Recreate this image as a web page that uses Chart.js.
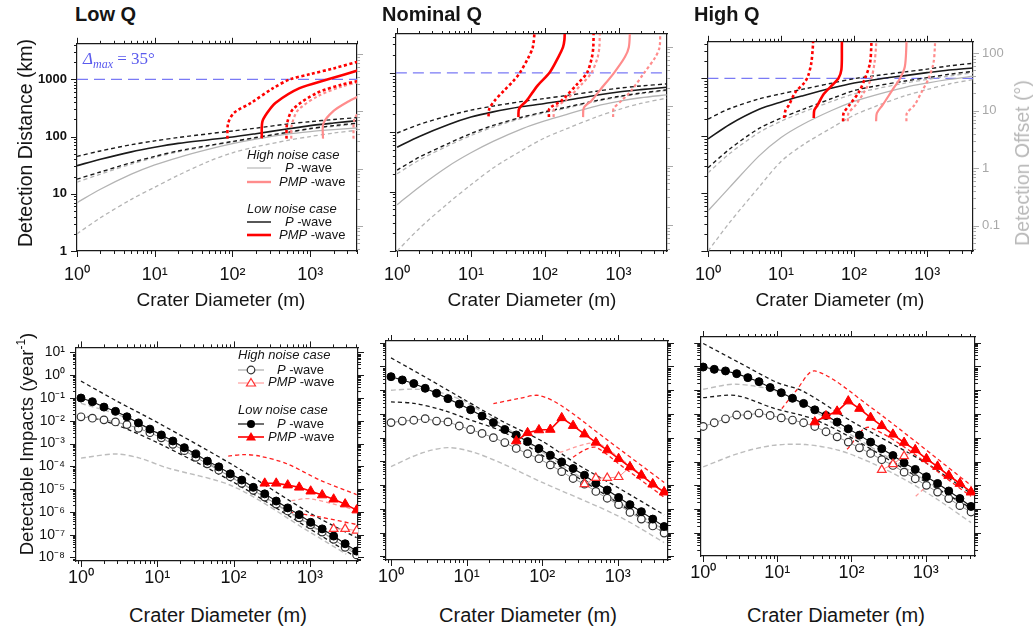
<!DOCTYPE html>
<html lang="en">
<head>
<meta charset="UTF-8">
<title>Detection distance and detectable impacts</title>
<script src="https://cdn.jsdelivr.net/npm/chart.js"></script>
<style>
    body { margin: 0; background: #fff; }
    #page { position: relative; width: 1034px; height: 633px; overflow: hidden; background: #fff;
            font-family: "Liberation Sans", Arial, sans-serif; color: #151515; }
    canvas { position: absolute; }
    .t { position: absolute; white-space: nowrap; }
    .ptitle { font: bold 20px/22px "Liberation Sans", Arial, sans-serif; }
    .xt { font-size: 19px; line-height: 22px; transform: translateX(-50%); }
    .xt2 { font-size: 20px; line-height: 22px; transform: translateX(-50%); }
    .yt { font-size: 19.5px; line-height: 22px; transform: translate(-50%, -50%) rotate(-90deg); }
    .lg { font-size: 13px; line-height: 16px; }
    .lg i { font-style: italic; }
    .hd { font-style: italic; }
    svg.s { position: absolute; overflow: visible; }
</style>
</head>
<body>
<div id="page">
    <canvas id="distLow"></canvas>
    <canvas id="distNom"></canvas>
    <canvas id="distHigh"></canvas>
    <canvas id="rateLow"></canvas>
    <canvas id="rateNom"></canvas>
    <canvas id="rateHigh"></canvas>

    <div class="t ptitle" style="left:75px;top:3px;">Low Q</div>
    <div class="t ptitle" style="left:382px;top:3px;">Nominal Q</div>
    <div class="t ptitle" style="left:694px;top:3px;">High Q</div>

    <div class="t yt" style="left:25px;top:143px;">Detection Distance (km)</div>
    <div class="t yt" style="left:1022px;top:163px;color:#b8b8b8;">Detection Offset (°)</div>
    <div class="t yt" style="left:24px;top:444px;font-size:18.5px;">Detectable Impacts (year<sup style="font-size:12px;">-1</sup>)</div>

    <div class="t xt" style="left:221px;top:289px;">Crater Diameter (m)</div>
    <div class="t xt" style="left:532px;top:289px;">Crater Diameter (m)</div>
    <div class="t xt" style="left:840px;top:289px;">Crater Diameter (m)</div>
    <div class="t xt2" style="left:218px;top:604px;">Crater Diameter (m)</div>
    <div class="t xt2" style="left:528px;top:604px;">Crater Diameter (m)</div>
    <div class="t xt2" style="left:836px;top:604px;">Crater Diameter (m)</div>

    <div class="t" style="left:83px;top:48px;color:#5a5aee;font:17px/22px 'Liberation Serif','DejaVu Serif',serif;">
        <i>Δ</i><sub style="font-size:12px;"><i>max</i></sub> = 35°</div>

    <!-- legend, top row -->
    <div class="t lg hd" style="left:247px;top:147px;">High noise case</div>
    <svg class="s" style="left:247px;top:168px;" width="24" height="1"><line x1="0" y1="0" x2="24" y2="0" stroke="#bdbdbd" stroke-width="1.3"/></svg>
    <div class="t lg" style="left:285px;top:160px;"><i>P</i> -wave</div>
    <svg class="s" style="left:247px;top:182px;" width="24" height="1"><line x1="0" y1="0" x2="24" y2="0" stroke="#ff8c8c" stroke-width="2.4"/></svg>
    <div class="t lg" style="left:279px;top:174px;"><i>PMP</i> -wave</div>
    <div class="t lg hd" style="left:247px;top:201px;">Low noise case</div>
    <svg class="s" style="left:247px;top:222px;" width="24" height="1"><line x1="0" y1="0" x2="24" y2="0" stroke="#444" stroke-width="1.8"/></svg>
    <div class="t lg" style="left:285px;top:214px;"><i>P</i> -wave</div>
    <svg class="s" style="left:247px;top:235px;" width="24" height="1"><line x1="0" y1="0" x2="24" y2="0" stroke="#ff0000" stroke-width="2.6"/></svg>
    <div class="t lg" style="left:279px;top:227px;"><i>PMP</i> -wave</div>

    <!-- legend, bottom row -->
    <div class="t lg hd" style="left:238px;top:347px;">High noise case</div>
    <svg class="s" style="left:238px;top:370px;" width="26" height="1"><line x1="0" y1="0" x2="26" y2="0" stroke="#999" stroke-width="1"/><circle cx="13" cy="0" r="3.8" fill="#fff" stroke="#333" stroke-width="1.2"/></svg>
    <div class="t lg" style="left:277px;top:362px;"><i>P</i> -wave</div>
    <svg class="s" style="left:238px;top:383px;" width="26" height="1"><line x1="0" y1="0" x2="26" y2="0" stroke="#ff8c8c" stroke-width="1"/><polygon points="13,-4.5 17.5,3 8.5,3" fill="#fff" stroke="#ff3030" stroke-width="1.2"/></svg>
    <div class="t lg" style="left:268px;top:374px;"><i>PMP</i> -wave</div>
    <div class="t lg hd" style="left:238px;top:402px;">Low noise case</div>
    <svg class="s" style="left:238px;top:424px;" width="26" height="1"><line x1="0" y1="0" x2="26" y2="0" stroke="#111" stroke-width="1.2"/><circle cx="13" cy="0" r="4" fill="#000"/></svg>
    <div class="t lg" style="left:277px;top:416px;"><i>P</i> -wave</div>
    <svg class="s" style="left:238px;top:437px;" width="26" height="1"><line x1="0" y1="0" x2="26" y2="0" stroke="#ff0000" stroke-width="1.6"/><polygon points="13,-5 18,3.5 8,3.5" fill="#ff0000"/></svg>
    <div class="t lg" style="left:268px;top:429px;"><i>PMP</i> -wave</div>
</div>

<script>
// ---------- data: detection distance (km) vs crater diameter (m) ----------
const D_GRID = [1, 2, 5, 10, 20, 50, 100, 200, 500, 1000, 2000, 4500];
const DELTA_MAX_KM = 1000;
const KM_PER_DEG = 27.5;

// Low Q
const distLow_lnP   = [31, 40, 54, 65, 76, 88, 98, 112, 135, 155, 172, 192];
const distLow_lnPhi = [45, 56, 72, 84, 96, 112, 125, 140, 165, 182, 198, 217];
const distLow_lnPlo = [18, 24, 35, 45, 56, 70, 82, 96, 118, 138, 155, 174];
const distLow_hnP   = [7, 12, 22, 32, 43, 60, 75, 90, 110, 122, 132, 143];
const distLow_hnPhi = [16, 22, 33, 43, 54, 68, 80, 94, 115, 135, 150, 168];
const distLow_hnPlo = [2, 3.8, 8, 13, 21, 37, 52, 66, 85, 100, 115, 131];
const distLow_lnPmp   = [[238, 93], [242, 180], [280, 260], [360, 390], [730, 700], [1700, 1000], [4500, 1480]];
const distLow_lnPmpHi = [[86, 92], [88, 170], [105, 260], [175, 390], [333, 700], [550, 1000], [1000, 1230], [2000, 1550], [4500, 2100]];
const distLow_lnPmpLo = [[495, 92], [505, 170], [600, 300], [1200, 570], [2500, 800], [4500, 960]];
const distLow_hnPmp   = [[1460, 92], [1480, 170], [2000, 280], [3000, 400], [4500, 530]];
const distLow_hnPmpHi = [[570, 92], [580, 160], [700, 290], [1300, 520], [2500, 740], [4500, 920]];
const distLow_hnPmpLo = [[3600, 92], [3700, 200], [4500, 300]];

// Nominal Q
const distNom_lnP   = [56, 85, 135, 180, 220, 270, 305, 345, 420, 475, 520, 570];
const distNom_lnPhi = [97, 135, 190, 235, 275, 330, 370, 415, 490, 550, 600, 650];
const distNom_lnPlo = [23, 38, 65, 95, 130, 180, 220, 265, 340, 400, 455, 515];
const distNom_hnP   = [6, 12, 27, 45, 70, 115, 155, 200, 275, 330, 380, 425];
const distNom_hnPhi = [20, 34, 60, 88, 122, 172, 212, 255, 330, 390, 445, 505];
const distNom_hnPlo = [1, 2.4, 6.5, 13, 25, 50, 80, 115, 180, 240, 305, 375];
const distNom_lnPmp   = [[44, 180], [45, 250], [57, 340], [80, 610], [116, 1000], [153, 1840], [177, 2700], [185, 3600], [187, 5000]];
const distNom_lnPmpHi = [[17.3, 185], [17.8, 250], [21, 340], [28, 500], [38, 740], [46, 1000], [60, 1800], [69, 2700], [73, 5000]];
const distNom_lnPmpLo = [[114, 180], [116, 250], [170, 343], [277, 650], [374, 1000], [435, 1800], [455, 2700], [460, 5000]];
const distNom_hnPmp   = [[331, 180], [340, 260], [434, 343], [557, 507], [870, 1000], [1220, 1840], [1380, 2700], [1430, 5000]];
const distNom_hnPmpHi = [[132, 180], [135, 250], [200, 360], [320, 650], [430, 1000], [520, 1800], [550, 2700], [557, 5000]];
const distNom_hnPmpLo = [[845, 180], [860, 250], [1110, 343], [1500, 507], [2230, 1000], [3160, 1840], [3600, 2700], [3670, 5000]];

// High Q
const distHigh_lnP   = [89, 160, 290, 390, 500, 680, 830, 960, 1120, 1260, 1400, 1530];
const distHigh_lnPhi = [197, 300, 440, 540, 650, 830, 990, 1120, 1300, 1450, 1650, 1850];
const distHigh_lnPlo = [28, 60, 135, 205, 290, 450, 615, 740, 900, 1030, 1180, 1340];
const distHigh_hnP   = [5, 13, 45, 94, 160, 280, 400, 520, 700, 830, 960, 1100];
const distHigh_hnPhi = [23, 50, 115, 180, 260, 400, 540, 660, 830, 960, 1100, 1260];
const distHigh_hnPlo = [1, 3.2, 13, 36, 70, 140, 230, 330, 500, 640, 800, 970];
const distHigh_lnPmp   = [[28, 205], [28.5, 280], [31.5, 343], [38.6, 540], [52, 800], [61, 1000], [67, 1420], [68, 3700], [68, 5000]];
const distHigh_lnPmpHi = [[11, 205], [11.5, 280], [12.8, 343], [15.7, 575], [21, 850], [23.4, 1100], [25.9, 1840], [27.3, 3700], [27.5, 5000]];
const distHigh_lnPmpLo = [[70.6, 180], [72, 250], [86, 343], [116, 575], [141, 1000], [165, 1840], [172, 3700], [172, 5000]];
const distHigh_hnPmp   = [[200, 180], [205, 250], [245, 343], [330, 613], [425, 1000], [495, 1600], [520, 3700], [520, 5000]];
const distHigh_hnPmpHi = [[82, 180], [84, 250], [105, 343], [141, 613], [172, 1000], [190, 1840], [200, 3700], [200, 5000]];
const distHigh_hnPmpLo = [[520, 180], [530, 250], [670, 343], [860, 613], [1050, 1000], [1220, 1840], [1280, 3700], [1280, 5000]];

// ---------- data: detectable impacts (per year) vs crater diameter (m) ----------
const D_STEPS = [1, 1.41, 2, 2.83, 4, 5.66, 8, 11.3, 16, 22.6, 32, 45.3, 64, 90.5, 128, 181, 256, 362, 512, 724, 1024, 1448, 2048, 2896, 4096];

// Low Q
const rateLow_lnP = [1.0e-1, 6.9e-2, 4.0e-2, 2.6e-2, 1.5e-2, 8.1e-3, 4.3e-3, 2.4e-3, 1.3e-3, 6.6e-4, 3.5e-4, 1.7e-4, 9.5e-5, 4.7e-5, 2.5e-5, 1.2e-5, 6.2e-6, 3.0e-6, 1.5e-6, 7.6e-7, 3.5e-7, 1.8e-7, 8.7e-8, 4.0e-8, 1.9e-8];
const rateLow_hnP = [1.5e-2, 1.3e-2, 1.1e-2, 8.9e-3, 6.8e-3, 4.7e-3, 3.0e-3, 1.8e-3, 9.3e-4, 4.9e-4, 2.5e-4, 1.3e-4, 6.8e-5, 3.5e-5, 1.8e-5, 8.9e-6, 4.5e-6, 2.2e-6, 1.1e-6, 5.5e-7, 2.7e-7, 1.3e-7, 6.3e-8, 2.8e-8, 1.3e-8];
const rateLow_lnPmpFrom = 16;
const rateLow_lnPmp = [1.8e-5, 1.8e-5, 1.5e-5, 1.2e-5, 8.1e-6, 5.5e-6, 3.6e-6, 2.2e-6, 1.2e-6];
const rateLow_hnPmpFrom = 22;
const rateLow_hnPmp = [1.8e-7, 1.8e-7, 1.5e-7];
const rateLow_lnPhi = [[1, 5.5e-1], [3, 7.1e-2], [10, 8.5e-3], [100, 1.1e-4], [1000, 8.9e-7], [4096, 7.4e-8]];
const rateLow_lnPlo = [[1, 1.9e-2], [3, 6.3e-3], [10, 1.1e-3], [100, 2.0e-5], [1000, 1.8e-7], [4096, 1.0e-8]];
const rateLow_hnPhi = [[1, 5.8e-2], [3, 1.9e-2], [10, 3.0e-3], [100, 3.0e-5], [1000, 2.6e-7], [4096, 1.6e-8]];
const rateLow_hnPlo = [[1, 2.3e-4], [2.9, 3.5e-4], [5.9, 2.3e-4], [13, 8.9e-5], [100, 1.3e-5], [1000, 1.3e-7], [3000, 1.4e-8]];
const rateLow_lnPmpHi = [[85, 2.8e-4], [134, 3.3e-4], [222, 2.8e-4], [500, 1.3e-4], [1350, 2.5e-5], [4096, 5.8e-6]];
const rateLow_lnPmpLo = [[540, 1.0e-6], [1350, 6.0e-7], [4096, 2.8e-7]];
const rateLow_hnPmpHi = [[575, 3.1e-6], [1000, 3.8e-6], [4096, 1.2e-6]];

// Nominal Q
const rateNom_lnP = [3.7e-1, 2.7e-1, 1.9e-1, 1.2e-1, 7.4e-2, 4.4e-2, 2.6e-2, 1.5e-2, 8.1e-3, 4.3e-3, 2.2e-3, 1.3e-3, 6.8e-4, 3.5e-4, 1.8e-4, 9.5e-5, 5.0e-5, 2.6e-5, 1.2e-5, 6.2e-6, 3.0e-6, 1.5e-6, 7.6e-7, 3.7e-7, 1.8e-7];
const rateNom_hnP = [4.3e-3, 5.0e-3, 5.4e-3, 6.3e-3, 5.0e-3, 4.6e-3, 3.1e-3, 2.2e-3, 1.5e-3, 1.0e-3, 6.2e-4, 3.5e-4, 2.1e-4, 1.3e-4, 7.1e-5, 3.7e-5, 1.9e-5, 1.1e-5, 5.4e-6, 2.8e-6, 1.5e-6, 7.1e-7, 3.7e-7, 1.9e-7, 9.5e-8];
const rateNom_lnPmpFrom = 11;
const rateNom_lnPmp = [7.2e-4, 1.6e-3, 2.1e-3, 2.2e-3, 6.8e-3, 3.2e-3, 1.4e-3, 6.3e-4, 3.0e-4, 1.3e-4, 5.8e-5, 2.6e-5, 1.1e-5, 5.1e-6];
const rateNom_hnPmpFrom = 17;
const rateNom_hnPmp = [1.1e-5, 2.0e-5, 2.0e-5, 2.2e-5, 5.8e-5, 2.6e-5, 1.1e-5, 5.1e-6];
const rateNom_lnPhi = [[1, 2.3], [3, 3.2e-1], [10, 3.5e-2], [30, 4.8e-3], [100, 7.1e-4], [300, 7.1e-5], [1000, 7.9e-6], [4096, 5.6e-7]];
const rateNom_lnPlo = [[1, 3.2e-2], [2, 2.8e-2], [5, 1.4e-2], [10, 6.3e-3], [30, 1.8e-3], [100, 1.8e-4], [1000, 1.8e-6], [4096, 1.0e-7]];
const rateNom_hnPhi = [[1, 1.0e-1], [2, 1.1e-1], [4, 8.9e-2], [10, 3.0e-2], [100, 2.5e-4], [1000, 2.0e-6], [4096, 1.3e-7]];
const rateNom_hnPlo = [[1, 6.0e-5], [2.5, 2.2e-4], [5.6, 3.8e-4], [12, 2.5e-4], [30, 7.9e-5], [100, 1.3e-5], [1000, 5.1e-7], [4096, 3.8e-8]];
const rateNom_lnPmpHi = [[22.6, 2.7e-2], [50, 4.5e-2], [90, 6.0e-2], [180, 2.2e-2], [700, 8.7e-4], [4096, 1.3e-5]];
const rateNom_lnPmpLo = [[256, 1.5e-4], [362, 3.0e-4], [512, 3.9e-4], [1024, 8.0e-5], [4096, 3.1e-6]];
const rateNom_hnPmpHi = [[170, 2.4e-4], [500, 5.9e-4], [1024, 1.5e-4], [4096, 4.5e-6]];

// High Q
const rateHigh_lnP = [9.5e-1, 7.6e-1, 6.5e-1, 5.0e-1, 3.4e-1, 2.3e-1, 1.3e-1, 7.9e-2, 4.6e-2, 2.8e-2, 1.5e-2, 8.7e-3, 4.6e-3, 2.4e-3, 1.3e-3, 6.6e-4, 3.5e-4, 1.8e-4, 8.9e-5, 4.7e-5, 2.3e-5, 1.2e-5, 5.8e-6, 2.8e-6, 1.3e-6];
const rateHigh_hnP = [3.0e-3, 4.3e-3, 6.3e-3, 9.1e-3, 9.1e-3, 1.1e-2, 8.7e-3, 6.9e-3, 5.6e-3, 4.3e-3, 3.0e-3, 1.8e-3, 1.1e-3, 6.6e-4, 3.8e-4, 2.2e-4, 1.2e-4, 6.9e-5, 3.6e-5, 1.9e-5, 1.0e-5, 5.2e-6, 2.8e-6, 1.4e-6, 7.6e-7];
const rateHigh_lnPmpFrom = 10;
const rateHigh_lnPmp = [4.6e-3, 8.3e-3, 1.3e-2, 3.5e-2, 1.7e-2, 7.1e-3, 3.2e-3, 1.4e-3, 6.3e-4, 3.1e-4, 1.3e-4, 6.2e-5, 2.6e-5, 1.2e-5, 5.2e-6];
const rateHigh_hnPmpFrom = 16;
const rateHigh_hnPmp = [4.5e-5, 7.8e-5, 1.7e-4, 3.1e-4, 1.3e-4, 6.2e-5, 2.6e-5, 1.2e-5, 5.2e-6];
const rateHigh_lnPhi = [[1, 9.3], [3, 1.5], [10, 2.1e-1], [22, 9.3e-2], [100, 5.0e-3], [1000, 8.9e-5], [4096, 4.5e-6]];
const rateHigh_lnPlo = [[1, 4.9e-2], [2.8, 6.0e-2], [8.7, 1.8e-2], [30, 6.3e-3], [100, 1.0e-3], [1000, 1.4e-5], [4096, 1.1e-6]];
const rateHigh_hnPhi = [[1, 1.1e-1], [2.8, 1.8e-1], [11.8, 7.4e-2], [100, 1.3e-3], [1000, 1.6e-5], [4096, 9.0e-7]];
const rateHigh_hnPlo = [[1, 6.0e-5], [3.1, 2.3e-4], [8.7, 4.8e-4], [24, 5.2e-4], [67, 3.0e-4], [185, 8.9e-5], [515, 1.8e-5], [1430, 2.6e-6], [4100, 2.7e-7]];
const rateHigh_lnPmpHi = [[11.5, 1.7e-2], [17.8, 9.3e-2], [32, 6.5e-1], [169, 2.3e-2], [4096, 1.0e-5]];
const rateHigh_lnPmpLo = [[87, 3.3e-4], [177, 2.7e-3], [4096, 3.5e-6]];
const rateHigh_hnPmpHi = [[735, 3.5e-6], [1100, 1.1e-5]];

// ---------- styles ----------
const BLACK = '#1a1a1a', GRAY = '#b4b4b4', RED = '#ff0000', PINK = '#ff8c8c', BLUE = '#7a7af5';
const DASH = [4, 3], DOT = [3, 2.5];
const FONT = '"Liberation Sans", Arial, sans-serif';

// ---------- helpers ----------
const SUP = { '0': '⁰', '1': '¹', '2': '²', '3': '³', '4': '⁴', '5': '⁵', '6': '⁶', '7': '⁷', '8': '⁸', '9': '⁹', '-': '⁻' };
function decadeExp(v) {
    const e = Math.log10(v), r = Math.round(e);
    return Math.abs(e - r) < 1e-6 ? r : null;
}
const powLabel = v => { const e = decadeExp(v); return e === null ? '' : '10' + String(e).split('').map(c => SUP[c]).join(''); };
const plainLabel = v => { const e = decadeExp(v); return e === null ? '' : (e < 0 ? v.toFixed(-e) : String(Math.round(v))); };

// tick positions 1..9 x 10^n inside the axis range
function logTicks(min, max) {
    const out = [];
    for (let e = Math.floor(Math.log10(min)); e <= Math.ceil(Math.log10(max)); e++) {
        for (let m = 1; m < 10; m++) {
            const v = m * Math.pow(10, e);
            if (v >= min * 0.999 && v <= max * 1.001) out.push({ value: v });
        }
    }
    return out;
}

const zip = (xs, ys) => xs.map((x, i) => ({ x: x, y: ys[i] }));
const pairs = arr => arr.map(p => ({ x: p[0], y: p[1] }));

function line(data, color, width, dash, tension) {
    return { data: data, borderColor: color, borderWidth: width, borderDash: dash || [],
             pointRadius: 0, fill: false, tension: tension === undefined ? 0.3 : tension };
}
function marks(data, o) {
    return { data: data, borderColor: o.line, borderWidth: o.lw, tension: 0, fill: false,
             pointStyle: o.style, pointRadius: o.r, pointBackgroundColor: o.fill,
             pointBorderColor: o.edge, pointBorderWidth: o.ew };
}

// outward tick marks, long at decades and short in between
const logTickPlugin = {
    id: 'logTicks',
    afterDraw(chart, args, opts) {
        const ctx = chart.ctx, a = chart.chartArea;
        Object.values(chart.scales).forEach(s => {
            ctx.save();
            ctx.strokeStyle = (opts.colors && opts.colors[s.id]) || BLACK;
            ctx.lineWidth = 1;
            ctx.beginPath();
            s.ticks.forEach(t => {
                const len = decadeExp(t.value) === null ? 3 : 6;
                const p = Math.round(s.getPixelForValue(t.value)) + 0.5;
                if (s.position === 'bottom') { ctx.moveTo(p, a.bottom); ctx.lineTo(p, a.bottom + len); }
                if (s.position === 'top') { ctx.moveTo(p, a.top); ctx.lineTo(p, a.top - len); }
                if (s.position === 'left') { ctx.moveTo(a.left, p); ctx.lineTo(a.left - len, p); }
                if (s.position === 'right') { ctx.moveTo(a.right, p); ctx.lineTo(a.right + len, p); }
            });
            ctx.stroke();
            ctx.restore();
        });
    }
};

function makePanel(id, box, xr, yr, yr2, datasets, lab) {
    const cv = document.getElementById(id);
    cv.width = box.w + box.L + box.R;
    cv.height = box.h + box.T + box.B;
    cv.style.left = (box.l - box.L) + 'px';
    cv.style.top = (box.t - box.T) + 'px';
    const logAxis = (pos, range, size, tickOpts) => ({
        type: 'logarithmic', position: pos, min: range[0], max: range[1],
        afterBuildTicks: s => { s.ticks = logTicks(range[0], range[1]); },
        afterFit: s => { if (pos === 'left' || pos === 'right') s.width = size; else s.height = size; },
        grid: { display: false, drawTicks: false },
        border: { display: true, color: BLACK, width: 1.2 },
        ticks: Object.assign({ display: false, autoSkip: false, maxRotation: 0, minRotation: 0 }, tickOpts || {})
    });
    return new Chart(cv, {
        type: 'line',
        data: { datasets: datasets },
        options: {
            responsive: false,
            animation: false,
            events: [],
            layout: { padding: 0 },
            plugins: { legend: { display: false }, tooltip: { enabled: false },
                       logTicks: { colors: lab.tickColors || {} } },
            scales: {
                x: logAxis('bottom', xr, box.B, lab.x),
                xTop: logAxis('top', xr, box.T),
                y: logAxis('left', yr, box.L, lab.y),
                yRight: logAxis('right', yr2, box.R, lab.yr)
            }
        },
        plugins: [logTickPlugin]
    });
}

function distSets(xr, lnP, lnPhi, lnPlo, hnP, hnPhi, hnPlo, lnPmp, lnPmpHi, lnPmpLo, hnPmp, hnPmpHi, hnPmpLo) {
    return [
        line(pairs(lnPmp), RED, 2.6),
        line(pairs(lnPmpHi), RED, 2.6, DOT),
        line(pairs(lnPmpLo), RED, 2.6, DOT),
        line(pairs(hnPmp), PINK, 2.2),
        line(pairs(hnPmpHi), PINK, 2.2, DOT),
        line(pairs(hnPmpLo), PINK, 2.2, DOT),
        line(zip(D_GRID, lnP), BLACK, 1.6),
        line(zip(D_GRID, lnPhi), BLACK, 1.4, DASH),
        line(zip(D_GRID, lnPlo), BLACK, 1.4, DASH),
        line(zip(D_GRID, hnP), GRAY, 1.3),
        line(zip(D_GRID, hnPhi), GRAY, 1.3, DASH),
        line(zip(D_GRID, hnPlo), GRAY, 1.3, DASH),
        line([{ x: xr[0], y: DELTA_MAX_KM }, { x: xr[1], y: DELTA_MAX_KM }], BLUE, 1.2, [11, 6], 0)
    ];
}

function rateSets(lnP, hnP, lnPmpFrom, lnPmp, hnPmpFrom, hnPmp, lnPhi, lnPlo, hnPhi, hnPlo, lnPmpHi, lnPmpLo, hnPmpHi) {
    return [
        marks(zip(D_STEPS.slice(lnPmpFrom), lnPmp), { style: 'triangle', r: 5.5, fill: RED, edge: RED, ew: 1, line: RED, lw: 1.6 }),
        marks(zip(D_STEPS.slice(hnPmpFrom), hnPmp), { style: 'triangle', r: 5, fill: '#fff', edge: '#ff3030', ew: 1.2, line: PINK, lw: 1 }),
        marks(zip(D_STEPS, lnP), { style: 'circle', r: 4, fill: '#000', edge: '#000', ew: 1, line: '#111', lw: 1.1 }),
        marks(zip(D_STEPS, hnP), { style: 'circle', r: 3.8, fill: '#fff', edge: '#333', ew: 1.2, line: '#999', lw: 1 }),
        line(pairs(lnPmpHi), '#ff2020', 1.3, DASH),
        line(pairs(lnPmpLo), '#ff2020', 1.3, DASH),
        line(pairs(hnPmpHi), '#ff9a9a', 1.3, DASH),
        line(pairs(lnPhi), BLACK, 1.3, DASH),
        line(pairs(lnPlo), BLACK, 1.3, DASH),
        line(pairs(hnPhi), '#bdbdbd', 1.4, [5, 3]),
        line(pairs(hnPlo), '#bdbdbd', 1.4, [5, 3])
    ];
}

// ---------- top row ----------
const xLabTop = { display: true, callback: powLabel, padding: 13, color: '#111', font: { family: FONT, size: 18 } };
const yLabKm = { display: true, callback: plainLabel, padding: 10, color: '#111', font: { family: FONT, size: 13, weight: 'bold' } };
const yLabDeg = { display: true, callback: plainLabel, padding: 9, color: '#a8a8a8', font: { family: FONT, size: 13 } };
const grayRight = { yRight: '#aaaaaa' };

let xr = [1, 4005];
makePanel('distLow', { l: 77, t: 36, w: 281, h: 215, L: 60, R: 12, T: 10, B: 45 }, xr, [1, 4170], [1 / KM_PER_DEG, 4170 / KM_PER_DEG],
    distSets(xr, distLow_lnP, distLow_lnPhi, distLow_lnPlo, distLow_hnP, distLow_hnPhi, distLow_hnPlo,
             distLow_lnPmp, distLow_lnPmpHi, distLow_lnPmpLo, distLow_hnPmp, distLow_hnPmpHi, distLow_hnPmpLo),
    { x: xLabTop, y: yLabKm, tickColors: grayRight });

xr = [0.962, 4540];
makePanel('distNom', { l: 383, t: 34, w: 284, h: 217, L: 12, R: 12, T: 10, B: 45 }, xr, [1, 4500], [1 / KM_PER_DEG, 4500 / KM_PER_DEG],
    distSets(xr, distNom_lnP, distNom_lnPhi, distNom_lnPlo, distNom_hnP, distNom_hnPhi, distNom_hnPlo,
             distNom_lnPmp, distNom_lnPmpHi, distNom_lnPmpLo, distNom_hnPmp, distNom_hnPmpHi, distNom_hnPmpLo),
    { x: xLabTop, tickColors: grayRight });

xr = [0.979, 4250];
makePanel('distHigh', { l: 694, t: 35, w: 279, h: 216, L: 12, R: 55, T: 10, B: 45 }, xr, [1, 4330], [1 / KM_PER_DEG, 4330 / KM_PER_DEG],
    distSets(xr, distHigh_lnP, distHigh_lnPhi, distHigh_lnPlo, distHigh_hnP, distHigh_hnPhi, distHigh_hnPlo,
             distHigh_lnPmp, distHigh_lnPmpHi, distHigh_lnPmpLo, distHigh_hnPmp, distHigh_hnPmpHi, distHigh_hnPmpLo),
    { x: xLabTop, yr: yLabDeg, tickColors: grayRight });

// ---------- bottom row ----------
const xLabBot = { display: true, callback: powLabel, padding: 6, color: '#111', font: { family: FONT, size: 18 } };
const yLabRate = { display: true, callback: powLabel, padding: 11, color: '#111', font: { family: FONT, size: 14 } };

makePanel('rateLow', { l: 76, t: 338, w: 282, h: 223, L: 70, R: 12, T: 10, B: 35 }, [0.86, 4270], [7.3e-9, 16.7], [7.3e-9, 16.7],
    rateSets(rateLow_lnP, rateLow_hnP, rateLow_lnPmpFrom, rateLow_lnPmp, rateLow_hnPmpFrom, rateLow_hnPmp,
             rateLow_lnPhi, rateLow_lnPlo, rateLow_hnPhi, rateLow_hnPlo, rateLow_lnPmpHi, rateLow_lnPmpLo, rateLow_hnPmpHi),
    { x: xLabBot, y: yLabRate });

makePanel('rateNom', { l: 386, t: 341, w: 282, h: 219, L: 12, R: 12, T: 10, B: 35 }, [0.858, 4610], [7.3e-9, 11.8], [7.3e-9, 11.8],
    rateSets(rateNom_lnP, rateNom_hnP, rateNom_lnPmpFrom, rateNom_lnPmp, rateNom_hnPmpFrom, rateNom_hnPmp,
             rateNom_lnPhi, rateNom_lnPlo, rateNom_hnPhi, rateNom_hnPlo, rateNom_lnPmpHi, rateNom_lnPmpLo, rateNom_hnPmpHi),
    { x: xLabBot });

makePanel('rateHigh', { l: 696, t: 337, w: 279, h: 219, L: 12, R: 12, T: 10, B: 35 }, [0.912, 4630], [1.07e-8, 17.4], [1.07e-8, 17.4],
    rateSets(rateHigh_lnP, rateHigh_hnP, rateHigh_lnPmpFrom, rateHigh_lnPmp, rateHigh_hnPmpFrom, rateHigh_hnPmp,
             rateHigh_lnPhi, rateHigh_lnPlo, rateHigh_hnPhi, rateHigh_hnPlo, rateHigh_lnPmpHi, rateHigh_lnPmpLo, rateHigh_hnPmpHi),
    { x: xLabBot });
</script>
</body>
</html>
